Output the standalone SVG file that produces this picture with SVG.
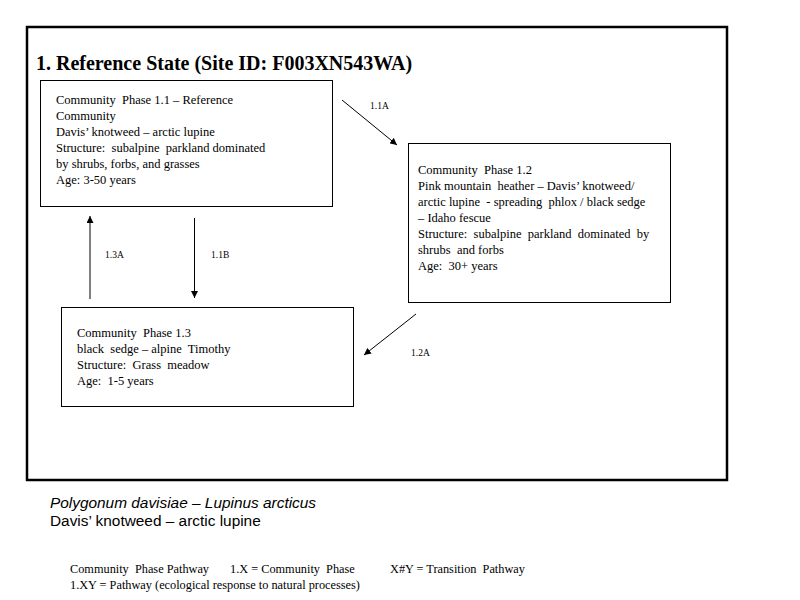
<svg xmlns="http://www.w3.org/2000/svg" width="800" height="600" viewBox="0 0 800 600">
<style>
text{white-space:pre}
.frame{fill:none;stroke:#000;stroke-width:2.5}
.box{fill:#fff;stroke:#000;stroke-width:1}
.t{font-family:"Liberation Serif","Times New Roman",serif;font-size:12.5px;fill:#000}
.lbl{font-family:"Liberation Serif","Times New Roman",serif;font-size:9.5px;fill:#000}
.title{font-family:"Liberation Serif","Times New Roman",serif;font-size:20px;font-weight:bold;fill:#000}
.sans{font-family:"Liberation Sans",Arial,sans-serif;font-size:15.4px;fill:#000}
.leg{font-family:"Liberation Serif","Times New Roman",serif;font-size:12.3px;fill:#000}
.c{stroke:#000;stroke-width:1;fill:none;marker-end:url(#ah)}
</style>
<defs>
<marker id="ah" viewBox="0 0 10 10" refX="10" refY="5" markerWidth="7" markerHeight="7" markerUnits="userSpaceOnUse" orient="auto">
<path d="M0,0 L10,5 L0,10 z" fill="#000"/>
</marker>
</defs>
<rect width="800" height="600" fill="#fff"/>
<rect class="frame" x="27" y="27" width="700" height="453"/>
<text class="title" x="36" y="70">1. Reference State (Site ID: F003XN543WA)</text>

<g id="phase-1-1">
<rect class="box" x="40.5" y="80.5" width="292" height="126"/>
<text class="t" x="56" y="104">Community  Phase 1.1 – Reference</text>
<text class="t" x="56" y="120">Community</text>
<text class="t" x="56" y="136">Davis’ knotweed – arctic lupine</text>
<text class="t" x="56" y="152">Structure:  subalpine  parkland dominated</text>
<text class="t" x="56" y="168">by shrubs, forbs, and grasses</text>
<text class="t" x="56" y="184">Age: 3-50 years</text>
</g>

<g id="phase-1-2">
<rect class="box" x="408.5" y="143.5" width="262" height="159"/>
<text class="t" x="418" y="174">Community  Phase 1.2</text>
<text class="t" x="418" y="190">Pink mountain  heather – Davis’ knotweed/</text>
<text class="t" x="418" y="206">arctic lupine  - spreading  phlox / black sedge</text>
<text class="t" x="418" y="222">– Idaho fescue</text>
<text class="t" x="418" y="238">Structure:  subalpine  parkland  dominated  by</text>
<text class="t" x="418" y="254">shrubs  and forbs</text>
<text class="t" x="418" y="270">Age:  30+ years</text>
</g>

<g id="phase-1-3">
<rect class="box" x="61.5" y="307.5" width="292" height="99"/>
<text class="t" x="77" y="337">Community  Phase 1.3</text>
<text class="t" x="77" y="353">black  sedge – alpine  Timothy</text>
<text class="t" x="77" y="369">Structure:  Grass  meadow</text>
<text class="t" x="77" y="385">Age:  1-5 years</text>
</g>

<g id="connectors">
<line class="c" x1="342" y1="100" x2="397" y2="145"/>
<line class="c" x1="416" y1="314" x2="364" y2="355"/>
<line class="c" x1="90" y1="299" x2="90" y2="216"/>
<line class="c" x1="194.5" y1="218" x2="194.5" y2="298"/>
<text class="lbl" x="370" y="109">1.1A</text>
<text class="lbl" x="411" y="356">1.2A</text>
<text class="lbl" x="105" y="258">1.3A</text>
<text class="lbl" x="211" y="258">1.1B</text>
</g>

<text class="sans" x="50" y="508" font-style="italic">Polygonum davisiae – Lupinus arcticus</text>
<text class="sans" x="50" y="526">Davis’ knotweed – arctic lupine</text>
<text class="leg" x="70" y="573">Community  Phase Pathway</text>
<text class="leg" x="230" y="573">1.X = Community  Phase</text>
<text class="leg" x="390" y="573">X#Y = Transition  Pathway</text>
<text class="leg" x="70" y="589">1.XY = Pathway (ecological response to natural processes)</text>
</svg>
